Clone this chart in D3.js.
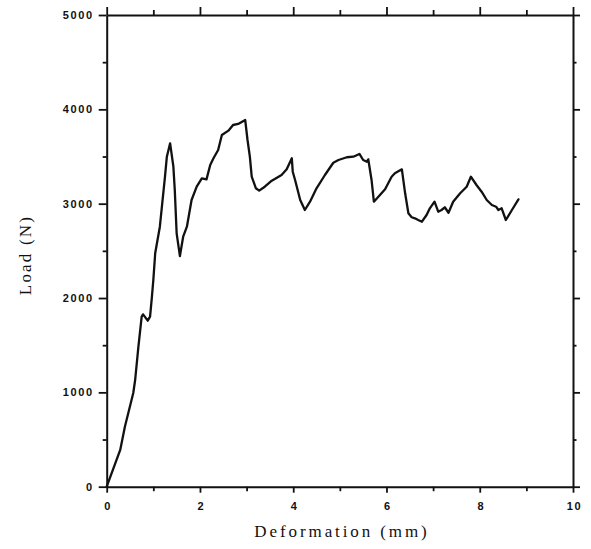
<!DOCTYPE html>
<html>
<head>
<meta charset="utf-8">
<script src="https://cdn.jsdelivr.net/npm/d3@7"></script>
<style>
  html, body { margin: 0; padding: 0; background: #fff; }
  svg { display: block; }
  .tick text { font-family: "Liberation Sans", Arial, Helvetica, sans-serif; font-size: 11px; font-weight: bold; fill: #111; letter-spacing: 1.6px; }
  .title { font-family: "Liberation Serif", "Times New Roman", serif; font-size: 17px; fill: #111; }
</style>
</head>
<body>
<svg id="chart" width="591" height="549"></svg>
<script>
// Load–deformation record
const deformation = [0, 0.29, 0.39, 0.57, 0.61, 0.68, 0.75, 0.78, 0.88, 0.93, 0.97, 1.00, 1.04, 1.14, 1.25, 1.29,
  1.36, 1.43, 1.46, 1.50, 1.57, 1.64, 1.72, 1.82, 1.93, 2.04, 2.14, 2.22, 2.29, 2.39, 2.47, 2.61, 2.71, 2.82,
  2.97, 3.02, 3.07, 3.11, 3.20, 3.27, 3.39, 3.54, 3.75, 3.86, 3.97, 3.99, 4.04, 4.15, 4.25, 4.36, 4.50, 4.68,
  4.86, 4.97, 5.15, 5.29, 5.42, 5.50, 5.58, 5.61, 5.68, 5.73, 5.86, 5.97, 6.11, 6.18, 6.33, 6.40, 6.47, 6.54,
  6.61, 6.68, 6.76, 6.86, 6.93, 7.03, 7.11, 7.18, 7.25, 7.33, 7.43, 7.58, 7.72, 7.81, 7.93, 8.04, 8.15, 8.26,
  8.35, 8.40, 8.47, 8.56, 8.69, 8.83];
const load = [0, 390, 636, 993, 1131, 1484, 1802, 1827, 1760, 1802, 2014, 2191, 2474, 2756, 3286, 3498,
  3640, 3392, 3145, 2686, 2445, 2650, 2756, 3039, 3180, 3269, 3258, 3410, 3481, 3569, 3728, 3774, 3834, 3845,
  3887, 3675, 3498, 3286, 3163, 3138, 3180, 3244, 3304, 3364, 3481, 3339, 3251, 3039, 2933, 3021, 3163, 3304,
  3434, 3463, 3492, 3498, 3527, 3463, 3445, 3470, 3251, 3021, 3092, 3152, 3286, 3322, 3364, 3110, 2898, 2856,
  2845, 2827, 2809, 2880, 2951, 3021, 2915, 2933, 2962, 2904, 3021, 3110, 3180, 3286, 3198, 3127, 3039, 2986,
  2968, 2933, 2951, 2827, 2933, 3046];

const xMajor = [0, 2, 4, 6, 8, 10];
const xMinor = [1, 3, 5, 7, 9];
const yMajor = [0, 1000, 2000, 3000, 4000, 5000];
const yMinor = [500, 1500, 2500, 3500, 4500];

const svg = d3.select("#chart");
const plotL = 106.7, plotR = 573, plotT = 15, plotB = 486.7;

const x = d3.scaleLinear().domain([0, 10]).range([plotL, plotR]);
const y = d3.scaleLinear().domain([0, 5000]).range([plotB, plotT]);

function styleAxis(g) {
  g.selectAll("path.domain").attr("stroke", "#111").attr("stroke-width", 2);
  g.selectAll(".tick line").attr("stroke", "#111").attr("stroke-width", 1.8);
}

// Bottom axis with labels
svg.append("g").attr("transform", `translate(0,${plotB})`)
  .call(d3.axisBottom(x).tickValues(xMajor).tickSize(6).tickSizeOuter(0).tickPadding(10).tickFormat(d3.format("d")))
  .call(styleAxis)
  .call(g => g.selectAll("text").attr("dx", "1px"));
svg.append("g").attr("transform", `translate(0,${plotB})`)
  .call(d3.axisBottom(x).tickValues(xMinor).tickSize(4.5).tickFormat(""))
  .call(g => g.select(".domain").remove()).call(styleAxis);

// Top axis (ticks only)
svg.append("g").attr("transform", `translate(0,${plotT})`)
  .call(d3.axisTop(x).tickValues(xMajor).tickSize(8).tickSizeOuter(0).tickFormat(""))
  .call(styleAxis);
svg.append("g").attr("transform", `translate(0,${plotT})`)
  .call(d3.axisTop(x).tickValues(xMinor).tickSize(5).tickFormat(""))
  .call(g => g.select(".domain").remove()).call(styleAxis);

// Left axis with labels
svg.append("g").attr("transform", `translate(${plotL},0)`)
  .call(d3.axisLeft(y).tickValues(yMajor).tickSize(8).tickSizeOuter(0).tickPadding(5).tickFormat(d3.format("d")))
  .call(styleAxis);
svg.append("g").attr("transform", `translate(${plotL},0)`)
  .call(d3.axisLeft(y).tickValues(yMinor).tickSize(4).tickFormat(""))
  .call(g => g.select(".domain").remove()).call(styleAxis);

// Right axis (ticks only)
svg.append("g").attr("transform", `translate(${plotR},0)`)
  .call(d3.axisRight(y).tickValues(yMajor).tickSize(7).tickSizeOuter(0).tickFormat(""))
  .call(styleAxis);
svg.append("g").attr("transform", `translate(${plotR},0)`)
  .call(d3.axisRight(y).tickValues(yMinor).tickSize(3.5).tickFormat(""))
  .call(g => g.select(".domain").remove()).call(styleAxis);

// Load curve
const pts = deformation.map((d, i) => [d, load[i]]);
svg.append("path")
  .datum(pts)
  .attr("fill", "none")
  .attr("stroke", "#111")
  .attr("stroke-width", 2.3)
  .attr("stroke-linejoin", "round")
  .attr("stroke-linecap", "round")
  .attr("d", d3.line().x(d => x(d[0])).y(d => y(d[1])));

// Axis titles
svg.append("text").attr("class", "title")
  .attr("x", 342).attr("y", 537)
  .attr("text-anchor", "middle")
  .style("letter-spacing", "2.9px")
  .text("Deformation (mm)");

svg.append("text").attr("class", "title")
  .attr("transform", "translate(31,255) rotate(-90)")
  .attr("text-anchor", "middle")
  .style("letter-spacing", "2.2px")
  .text("Load (N)");
</script>
</body>
</html>
